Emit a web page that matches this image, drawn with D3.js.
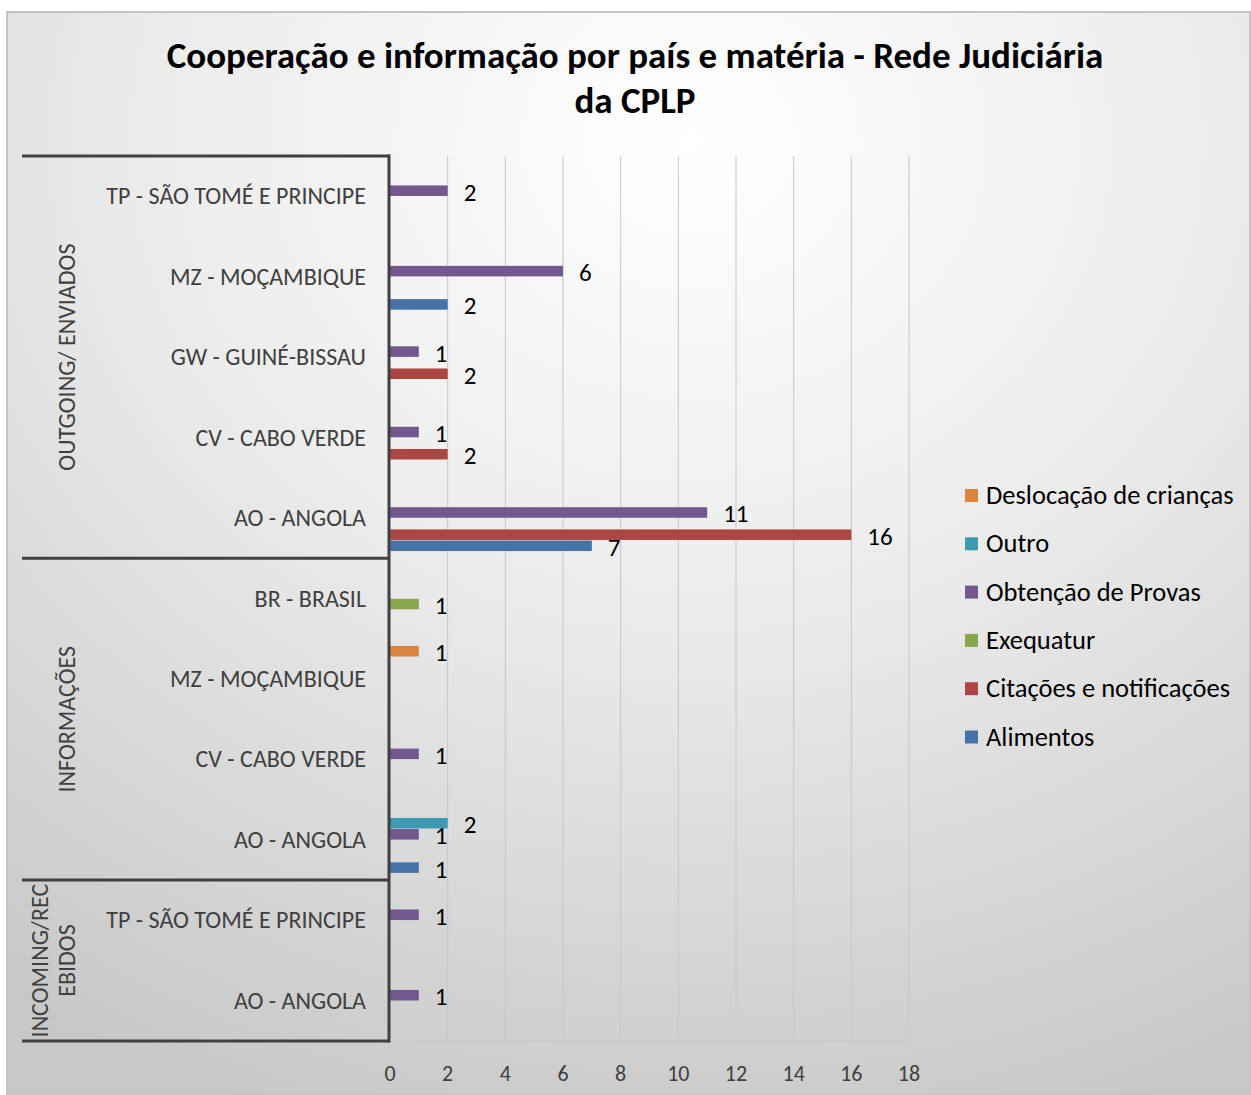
<!DOCTYPE html>
<html>
<head>
<meta charset="utf-8">
<script src="https://cdn.jsdelivr.net/npm/d3@7"></script>
<style>
  body { margin: 0; background: #fff; }
  svg text { font-family: Carlito, Calibri, Lato, sans-serif; }
</style>
</head>
<body>
<svg id="chart"></svg>
<script>
// categories, top to bottom
const categories = [
  "TP - SÃO TOMÉ E PRINCIPE", "MZ - MOÇAMBIQUE", "GW - GUINÉ-BISSAU", "CV - CABO VERDE", "AO - ANGOLA",
  "BR - BRASIL", "MZ - MOÇAMBIQUE", "CV - CABO VERDE", "AO - ANGOLA",
  "TP - SÃO TOMÉ E PRINCIPE", "AO - ANGOLA"
];
const groupNames = [["OUTGOING/ ENVIADOS"], ["INFORMAÇÕES"], ["INCOMING/REC", "EBIDOS"]];
const groupSizes = [5, 4, 2];

const seriesNames = ["Deslocação de crianças", "Outro", "Obtenção de Provas", "Exequatur", "Citações e notificações", "Alimentos"];
const seriesColors = ["#db843d", "#3d9bb1", "#72588e", "#89a54e", "#aa4644", "#4573a7"];

const deslocacao = [null, null, null, null, null, null, 1, null, null, null, null];
const outro      = [null, null, null, null, null, null, null, null, 2, null, null];
const obtencao   = [2, 6, 1, 1, 11, null, null, 1, 1, 1, 1];
const exequatur  = [null, null, null, null, null, 1, null, null, null, null, null];
const citacoes   = [null, null, 2, 2, 16, null, null, null, null, null, null];
const alimentos  = [null, 2, null, null, 7, null, null, null, 1, null, null];
const seriesValues = [deslocacao, outro, obtencao, exequatur, citacoes, alimentos];

const xTicks = [0, 2, 4, 6, 8, 10, 12, 14, 16, 18];

const W = 1251, H = 1095;
const svg = d3.select("#chart").attr("width", W).attr("height", H);

// background
const defs = svg.append("defs");
const grad = defs.append("radialGradient").attr("id", "bg")
  .attr("cx", "0.55").attr("cy", "0.12").attr("r", "0.95");
grad.append("stop").attr("offset", "0").attr("stop-color", "#ffffff");
grad.append("stop").attr("offset", "0.45").attr("stop-color", "#ececec");
grad.append("stop").attr("offset", "1").attr("stop-color", "#c8c8c8");
svg.append("rect").attr("x", 7).attr("y", 12).attr("width", W - 8).attr("height", H - 12)
  .attr("fill", "url(#bg)").attr("stroke", "#c4c4c4").attr("stroke-width", 2);

// title
const title = svg.append("text").attr("text-anchor", "middle")
  .attr("font-weight", "bold").attr("font-size", 37).attr("fill", "#000");
title.append("tspan").attr("x", 635).attr("y", 68).text("Cooperação e informação por país e matéria - Rede Judiciária");
title.append("tspan").attr("x", 635).attr("y", 113).text("da CPLP");

const plot = { left: 390, right: 909, top: 156, bottom: 1041 };

const x = d3.scaleLinear().domain([0, 18]).range([plot.left, plot.right]);
const y = d3.scaleBand().domain(d3.range(categories.length)).range([plot.top, plot.bottom]);
const ySub = d3.scaleBand().domain(d3.range(seriesNames.length))
  .range([y.bandwidth() / 2 - 33, y.bandwidth() / 2 + 33]).paddingInner(0.05);

// gridlines
svg.append("g").selectAll("line").data(xTicks.slice(1)).join("line")
  .attr("x1", d => x(d)).attr("x2", d => x(d))
  .attr("y1", plot.top).attr("y2", plot.bottom)
  .attr("stroke", "#c6c6c6").attr("stroke-width", 1);
svg.append("line").attr("x1", plot.left).attr("x2", plot.right)
  .attr("y1", plot.bottom).attr("y2", plot.bottom).attr("stroke", "#c6c6c6");

// x tick labels
svg.append("g").selectAll("text").data(xTicks).join("text")
  .attr("x", d => x(d)).attr("y", 1081).attr("text-anchor", "middle")
  .attr("font-size", 22).attr("fill", "#404040").text(d => d);

// bars
const bars = [];
seriesValues.forEach((vals, s) => vals.forEach((v, c) => {
  if (v != null) bars.push({ s, c, v });
}));
svg.append("g").selectAll("rect").data(bars).join("rect")
  .attr("x", x(0))
  .attr("y", d => y(d.c) + ySub(d.s))
  .attr("width", d => x(d.v) - x(0))
  .attr("height", ySub.bandwidth())
  .attr("fill", d => seriesColors[d.s]);

// data labels
svg.append("g").selectAll("text").data(bars).join("text")
  .attr("x", d => x(d.v) + 16)
  .attr("y", d => y(d.c) + ySub(d.s) + ySub.bandwidth() / 2 + 10)
  .attr("font-size", 25).attr("fill", "#000").text(d => d.v);

// category labels
svg.append("g").selectAll("text").data(categories).join("text")
  .attr("x", 366).attr("y", (d, i) => y(i) + y.bandwidth() / 2 + 8)
  .attr("text-anchor", "end").attr("font-size", 24).attr("fill", "#404040").text(d => d);

// multi-level axis frame
const axisColor = "#404040";
let start = 0;
const bounds = [0];
groupSizes.forEach(n => { start += n; bounds.push(start); });
svg.append("g").selectAll("line").data(bounds).join("line")
  .attr("x1", 22).attr("x2", plot.left)
  .attr("y1", d => d === categories.length ? plot.bottom : y(d))
  .attr("y2", d => d === categories.length ? plot.bottom : y(d))
  .attr("stroke", axisColor).attr("stroke-width", 3);
svg.append("line").attr("x1", plot.left - 1).attr("x2", plot.left - 1)
  .attr("y1", plot.top - 1.5).attr("y2", plot.bottom + 1.5)
  .attr("stroke", axisColor).attr("stroke-width", 3);

// group labels (rotated)
groupNames.forEach((lines, g) => {
  const y0 = y(bounds[g]);
  const y1 = bounds[g + 1] === categories.length ? plot.bottom : y(bounds[g + 1]);
  const cy = (y0 + y1) / 2;
  const t = svg.append("text")
    .attr("transform", `translate(0,${cy}) rotate(-90)`)
    .attr("text-anchor", "middle").attr("font-size", 24).attr("fill", "#404040");
  const n = lines.length;
  lines.forEach((line, i) => {
    t.append("tspan").attr("x", 0)
      .attr("y", 75 - (n - 1 - i) * 27).text(line);
  });
});

// legend
const legend = svg.append("g").attr("transform", "translate(965,495)");
const item = legend.selectAll("g").data(seriesNames).join("g")
  .attr("transform", (d, i) => `translate(0,${i * 48.3})`);
item.append("rect").attr("x", 0).attr("y", -6).attr("width", 13).attr("height", 13)
  .attr("fill", (d, i) => seriesColors[i]);
item.append("text").attr("x", 21).attr("y", 9).attr("font-size", 26.5).attr("fill", "#000").text(d => d);
</script>
</body>
</html>
